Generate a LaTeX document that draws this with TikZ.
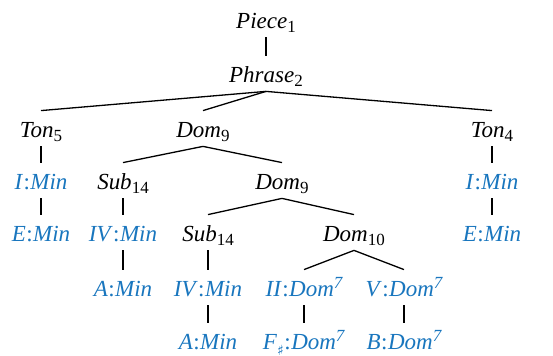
\documentclass[tikz,border=0pt]{standalone}
\usepackage{fontspec}
\setmainfont{Liberation Serif}
\newfontfamily\symfont{DejaVu Sans}
\definecolor{chord}{RGB}{25,118,190}
% category label with an upright index
\newcommand{\cat}[2]{\textit{#1}\raisebox{-0.35ex}{\fontsize{8.5}{9}\selectfont #2}}
% chord label: degree : quality
\newcommand{\cln}{\kern0.02em:\kern0.02em}
\newcommand{\chd}[2]{\textcolor{chord}{\textit{#1}\cln\textit{#2}}}
\newcommand{\svn}{\raisebox{0.85ex}{\fontsize{8.5}{9}\selectfont\textit{7}}}
\newcommand{\shp}{\raisebox{-0.5ex}{\symfont\fontsize{7}{8}\selectfont ♯}}
\begin{document}
\begin{tikzpicture}[x=0.5pt,y=-0.5pt,
  every node/.style={anchor=base,inner sep=0pt,text height=13.5pt,text depth=4pt,
    font=\fontsize{11.5}{13}\selectfont},
  edge/.style={line width=0.65pt}]
\useasboundingbox (0,0) rectangle (553,356);
% rows (baselines)
\node (piece)  at (266,29)  {\cat{Piece}{1}};
\node (phrase) at (266,83)  {\cat{Phrase}{2}};
\node (ton5)   at (41,138)  {\cat{Ton}{5}};
\node (dom9a)  at (203,138) {\cat{Dom}{9}};
\node (ton4)   at (492,138) {\cat{Ton}{4}};
\node (imin1)  at (41,190)  {\chd{I}{Min}};
\node (sub14a) at (123,190) {\cat{Sub}{14}};
\node (dom9b)  at (282,190) {\cat{Dom}{9}};
\node (imin2)  at (492,190) {\chd{I}{Min}};
\node (emin1)  at (41,242)  {\chd{E}{Min}};
\node (ivmin1) at (123,242) {\chd{IV}{Min}};
\node (sub14b) at (208,242) {\cat{Sub}{14}};
\node (dom10)  at (354,242) {\cat{Dom}{10}};
\node (emin2)  at (492,242) {\chd{E}{Min}};
\node (amin1)  at (123,297) {\chd{A}{Min}};
\node (ivmin2) at (208,297) {\chd{IV}{Min}};
\node (iidom)  at (304,297) {\chd{II}{Dom\svn}};
\node (vdom)   at (404,297) {\chd{V}{Dom\svn}};
\node (amin2)  at (208,350) {\chd{A}{Min}};
\node (fsdom)  at (304,350) {\textcolor{chord}{\textit{F}\shp\cln\textit{Dom}\svn}};
\node (bdom)   at (404,350) {\chd{B}{Dom\svn}};
% tree edges
\foreach \p/\c in {piece/phrase, phrase/ton5, phrase/dom9a, phrase/ton4,
  ton5/imin1, dom9a/sub14a, dom9a/dom9b, ton4/imin2,
  imin1/emin1, sub14a/ivmin1, dom9b/sub14b, dom9b/dom10, imin2/emin2,
  ivmin1/amin1, sub14b/ivmin2, dom10/iidom, dom10/vdom,
  ivmin2/amin2, iidom/fsdom, vdom/bdom}
  \draw[edge] (\p.south) -- (\c.north);
\end{tikzpicture}
\end{document}
